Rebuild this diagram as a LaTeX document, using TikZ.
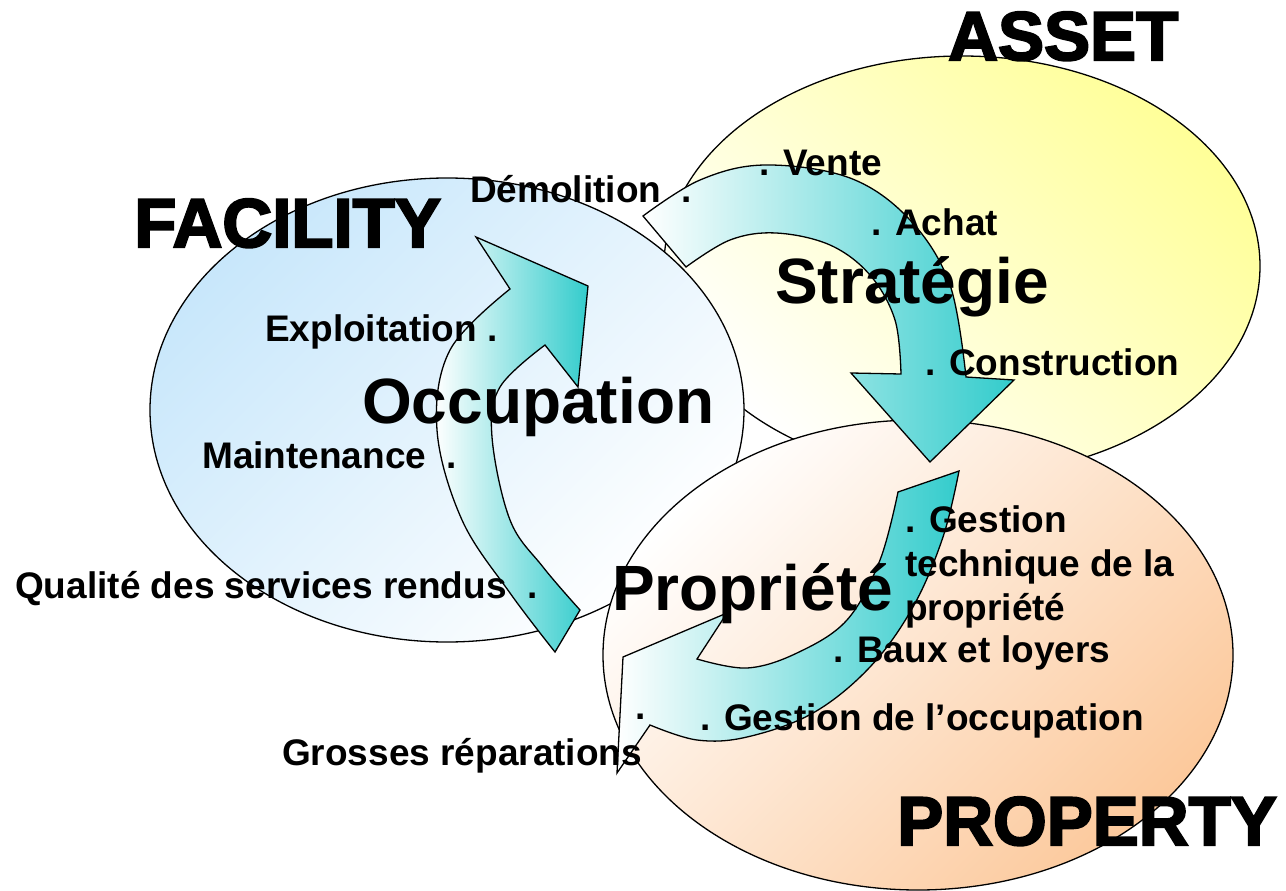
\documentclass[tikz,border=0pt]{standalone}
\usepackage{fontspec}
\setmainfont{Liberation Sans}
\newfontfamily\heavyfont[FakeBold=3]{Liberation Sans Bold}
\usetikzlibrary{positioning}
\definecolor{facblue}{HTML}{C8E7FB}
\definecolor{assetyellow}{HTML}{FFFF99}
\definecolor{propsalmon}{HTML}{FCC99C}
\definecolor{arrowteal}{HTML}{33CCCC}
\tikzset{zone/.style={draw,line width=1.3pt},
  circarrow/.style={draw,line width=1.3pt,left color=white,right color=arrowteal},
  lbl/.style={anchor=base west,inner sep=0pt,font=\fontsize{37}{44}\selectfont\bfseries},
  midlbl/.style={lbl,font=\fontsize{64}{72}\selectfont\bfseries},
  biglbl/.style={lbl,font=\fontsize{69}{80}\selectfont\heavyfont}}

\begin{document}
\begin{tikzpicture}[x=1pt,y=-1pt]
\useasboundingbox (0,0) rectangle (1286,891);
% the three domains
\draw[zone,top color=assetyellow,bottom color=white,shading angle=-45] (962,266) ellipse [x radius=298,y radius=210];
\draw[zone,top color=facblue,bottom color=white,shading angle=45] (447,410) ellipse [x radius=297,y radius=232];
\draw[zone,top color=white,bottom color=propsalmon,shading angle=45] (918,655) ellipse [x radius=315,y radius=235];
% curved arrows
\draw[circarrow] plot[smooth,tension=0.6] coordinates {(643,216) (700,180) (765,165) (850,178) (910,220) (950,285) (966,377)}
  -- (1014,380) -- (930,462) -- (851,373) -- (901,374)
  -- plot[smooth,tension=0.6] coordinates {(901,374) (895,320) (870,275) (830,245) (776,233) (730,240) (686,267)} -- cycle;
\draw[circarrow] plot[smooth,tension=0.6] coordinates {(555,652) (510,593) (462,520) (437,430) (450,350) (510,289)}
  -- (476,237) -- (588,286) -- (578,387) -- (545,345)
  -- plot[smooth,tension=0.6] coordinates {(545,345) (500,387) (492,437) (510,520) (543,567) (580,610)} -- cycle;
\draw[circarrow] (898,492) -- (959,471)
  -- plot[smooth,tension=0.6] coordinates {(959,471) (943,537) (913,607) (870,667) (813,713) (747,737) (697,740) (650,725)}
  -- (617,773) -- (623,657) -- (727,613) -- (697,659)
  -- plot[smooth,tension=0.6] coordinates {(697,659) (747,668) (797,653) (847,620) (880,560) (898,492)} -- cycle;
% titles
\node[biglbl] (facility) at (134,247) {FACILITY};
\node[biglbl] (asset) at (948,60) {ASSET};
\node[biglbl] (property) at (897,845) {PROPERTY};
\node[midlbl] (strategie) at (775,303) {Stratégie};
\node[midlbl] (occupation) at (362,423) {Occupation};
\node[midlbl] (propriete) at (612,610) {Propriété};
% activities
\foreach \nm/\px/\py/\txt in {demol/470/202/{Démolition~~.}, vente/759/175/{. Vente}, achat/871/235/{. Achat},
  constr/925/375/{. Construction}, exploit/265/341/{Exploitation .}, maint/202/468/{Maintenance~~.},
  qualite/15/598/{Qualité des services rendus~~.}, baux/833/662/{. Baux et loyers},
  gestocc/700/730/{. Gestion de l’occupation}, lonedot/635/719/{.}, grosses/282/765/{Grosses réparations}}
  \node[lbl] (\nm) at (\px,\py) {\txt};
\node[lbl,align=left] (gesttech) at (905,620) {. Gestion\\technique de la\\propriété};
\end{tikzpicture}
\end{document}
